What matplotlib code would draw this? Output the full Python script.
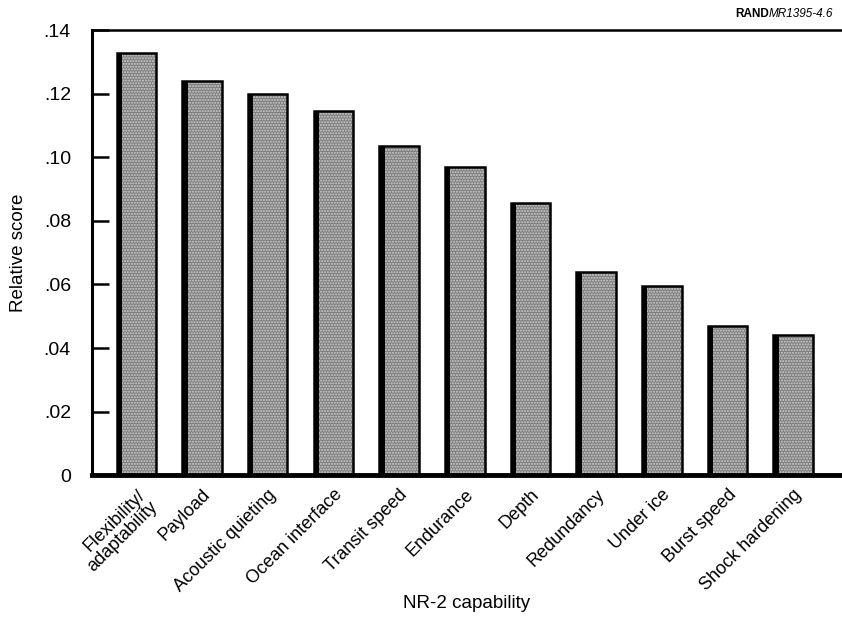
import numpy as np
import matplotlib
matplotlib.use("Agg")
import matplotlib.pyplot as plt

plt.rcParams['font.family'] = ['Liberation Sans', 'DejaVu Sans']

capabilities = ["Flexibility/\nadaptability", "Payload", "Acoustic quieting",
                "Ocean interface", "Transit speed", "Endurance", "Depth",
                "Redundancy", "Under ice", "Burst speed", "Shock hardening"]
scores = [0.133, 0.124, 0.120, 0.1145, 0.1035, 0.097, 0.0855,
          0.064, 0.0595, 0.047, 0.044]
yticks = [0, 0.02, 0.04, 0.06, 0.08, 0.10, 0.12, 0.14]
ytick_labels = ["0", ".02", ".04", ".06", ".08", ".10", ".12", ".14"]

fig = plt.figure(figsize=(8.42, 6.31), dpi=100)
ax = fig.add_axes([0.109, 0.247, 0.95, 0.705])

x = np.arange(len(capabilities))
w = 0.6
# stippled grey fill
ax.bar(x, scores, width=w, color="#7c7c7c", edgecolor="#d0d0d0",
       hatch="......", linewidth=0, zorder=2)
# outline
ax.bar(x, scores, width=w, fill=False, edgecolor="black", linewidth=1.8, zorder=3)
# dark shadow on the left side of each bar
ax.bar(x - w / 2, scores, width=0.08, align="edge", color="black", linewidth=0, zorder=3)

ax.set_xlim(-0.68, 11.5)
ax.set_ylim(0, 0.14)
ax.set_yticks(yticks)
ax.set_yticklabels(ytick_labels, fontsize=14)
ax.tick_params(axis="y", direction="in", length=12, width=1.8, pad=15)
ax.set_xticks(x)
ax.set_xticklabels(capabilities, rotation=45, ha="right", rotation_mode="anchor",
                   fontsize=13, linespacing=1.0)
ax.tick_params(axis="x", length=0, pad=8)

ax.spines["right"].set_visible(False)
ax.spines["left"].set_linewidth(2.2)
ax.spines["top"].set_linewidth(1.8)
ax.spines["bottom"].set_linewidth(3.5)

ax.set_ylabel("Relative score", fontsize=13.5, labelpad=12)
fig.text(0.554, 0.03, "NR-2 capability", fontsize=13.5, ha="center", va="bottom")

fig.text(0.913, 0.978, "RAND", fontsize=8.5, fontweight="bold", ha="right", va="center")
fig.text(0.913, 0.978, "MR1395-4.6", fontsize=8.5, fontstyle="italic", ha="left", va="center")

fig.savefig("out.png", dpi=100)
